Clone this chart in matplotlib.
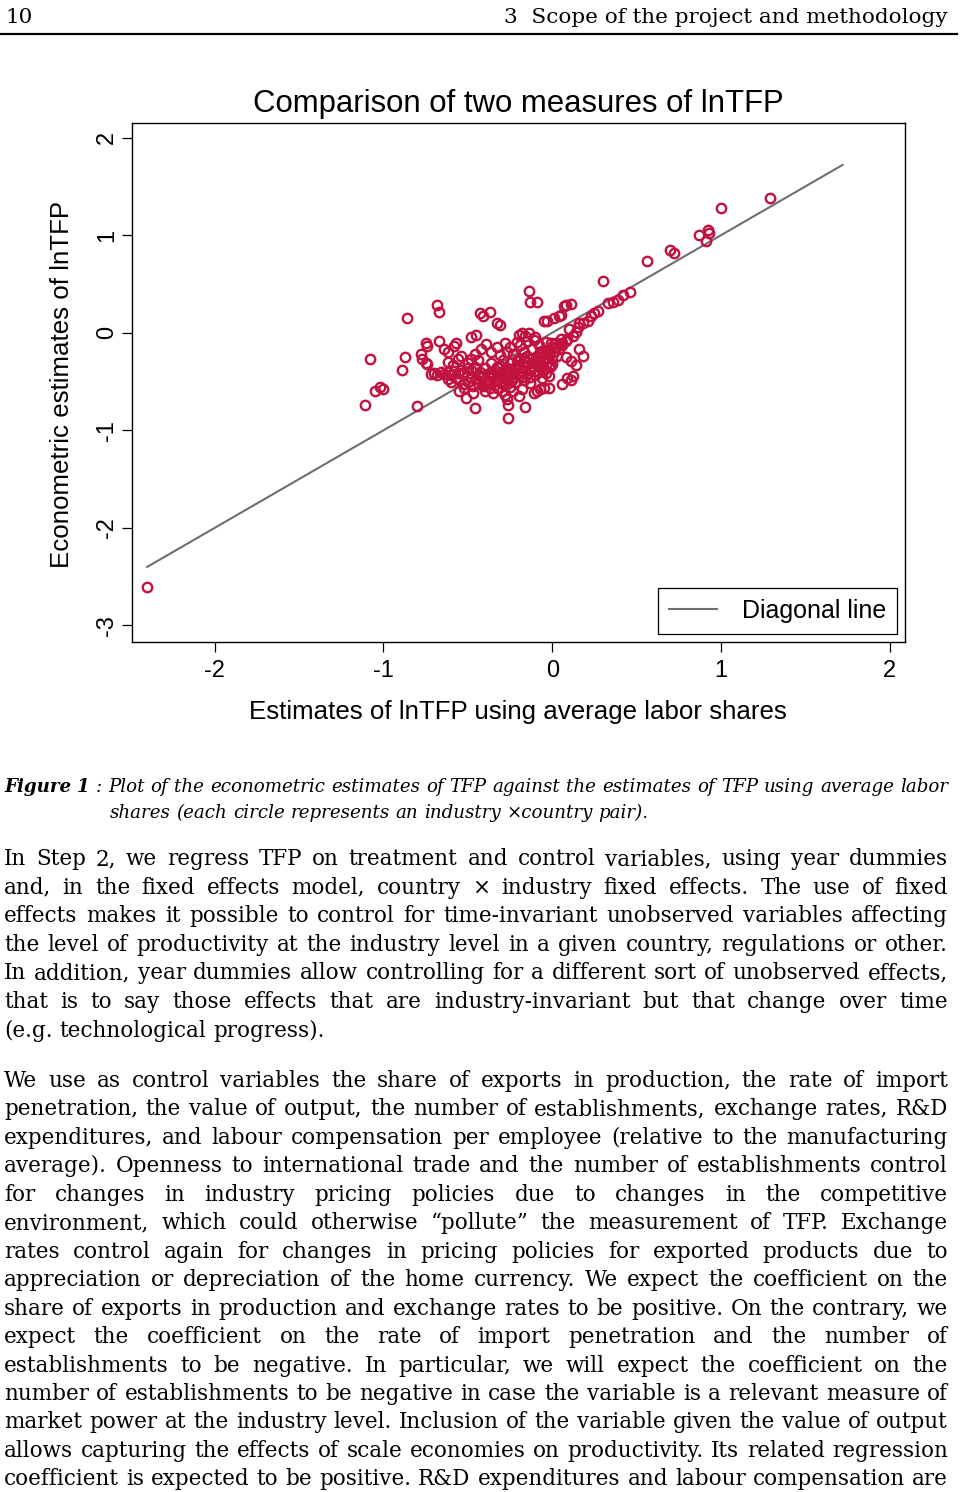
import matplotlib
matplotlib.use('Agg')
import matplotlib.pyplot as plt
from matplotlib.font_manager import FontProperties

# scatter data: (average-labor-share lnTFP, econometric lnTFP)
x_avg = [-2.40, -1.11, -1.08, -1.05, -1.02, -1.00, -0.86, -0.87, -0.89, -0.80,
         -0.68, -0.67, -0.75, -0.74, -0.78, -0.77, -0.75, -0.74, -0.67, -0.64,
         -0.62, -0.58, -0.57, -0.56, -0.48, -0.45, -0.43, -0.41, -0.37, -0.33,
         -0.31, -0.55, -0.52, -0.51, -0.47, -0.46, -0.27, -0.26, -0.26, -0.20,
         -0.16, -0.14, -0.13, -0.09, -0.11, -0.09, -0.07, -0.05, -0.02, -0.04,
         -0.02, -0.01, -0.05, -0.03, 0.01, 0.04, 0.07, 0.11, 0.06, 0.09,
         0.11, 0.12, 0.08, 0.11, 0.14, 0.16, 0.18, 0.30, 0.25, 0.27,
         0.23, 0.21, 0.18, 0.15, 0.33, 0.36, 0.39, 0.42, 0.46, 0.56,
         0.70, 0.72, 0.87, 0.92, 0.93, 0.91, 1.00, 1.29, 0.16, 0.05,
         0.08, -0.18, -0.20,
         -0.72, -0.70, -0.68, -0.66, -0.64, -0.62, -0.60, -0.58, -0.56, -0.54,
         -0.52, -0.50, -0.48, -0.46, -0.62, -0.57,
         -0.45, -0.44, -0.43, -0.42, -0.41, -0.40, -0.39, -0.38, -0.37, -0.36,
         -0.35, -0.34, -0.33, -0.33, -0.32, -0.31, -0.30, -0.29, -0.29, -0.28,
         -0.27, -0.26, -0.25, -0.25, -0.24, -0.23, -0.22, -0.22, -0.21, -0.20,
         -0.19, -0.19, -0.18, -0.17, -0.17, -0.16, -0.15, -0.15, -0.14, -0.13,
         -0.13, -0.12, -0.11, -0.10, -0.10, -0.09, -0.08, -0.08, -0.07, -0.06,
         -0.06, -0.05, -0.04, -0.04, -0.03, -0.02, -0.01, 0.00, 0.01, 0.02,
         0.03, 0.04, 0.05, 0.06, 0.08, -0.30, -0.28, -0.35, -0.40, -0.23,
         -0.18, -0.27, -0.21, -0.14, -0.11, -0.16,
         -0.60, -0.55, -0.50, -0.48, -0.52, -0.47,
         -0.62, -0.59, -0.54, -0.50, -0.48, -0.46, -0.44, -0.42, -0.39, -0.36,
         -0.33, -0.31, -0.28, -0.25,
         0.02, 0.06, 0.09, 0.12, 0.14, 0.10,
         -0.42, -0.38, -0.35, -0.32, -0.30, -0.27, -0.24, -0.22, -0.20, -0.18,
         -0.16, -0.14, -0.12, -0.10, -0.08, -0.06, -0.04, -0.02, -0.40, -0.36,
         -0.33, -0.28, -0.26, -0.23, -0.19, -0.15, -0.11, -0.07, -0.03, 0.00,
         -0.44, -0.37, -0.31, -0.25, -0.21, -0.17, -0.13, -0.09, -0.05, -0.01]
y_econ = [-2.61, -0.74, -0.27, -0.60, -0.56, -0.58, 0.15, -0.25, -0.38, -0.75,
          0.28, 0.21, -0.10, -0.14, -0.22, -0.27, -0.31, -0.32, -0.08, -0.17,
          -0.20, -0.14, -0.11, -0.27, -0.04, -0.02, 0.20, 0.17, 0.21, 0.10,
          0.08, -0.60, -0.53, -0.67, -0.62, -0.77, -0.68, -0.74, -0.87, -0.65,
          -0.76, 0.43, 0.32, 0.32, -0.62, -0.60, -0.58, -0.57, -0.57, -0.41,
          -0.44, -0.34, 0.12, 0.12, 0.15, 0.17, 0.27, 0.29, -0.53, -0.46,
          -0.48, -0.44, -0.25, -0.29, -0.33, -0.17, -0.24, 0.53, 0.20, 0.22,
          0.17, 0.12, 0.10, 0.06, 0.30, 0.32, 0.34, 0.39, 0.42, 0.74,
          0.85, 0.82, 1.00, 1.05, 1.02, 0.94, 1.28, 1.38, 0.10, 0.18,
          0.28, 0.00, -0.02,
          -0.42, -0.41, -0.43, -0.40, -0.42, -0.40, -0.43, -0.39, -0.41, -0.38,
          -0.40, -0.36, -0.38, -0.35, -0.47, -0.46,
          -0.47, -0.52, -0.40, -0.44, -0.55, -0.36, -0.48, -0.42, -0.52, -0.31,
          -0.45, -0.38, -0.57, -0.49, -0.42, -0.34, -0.46, -0.53, -0.28, -0.40,
          -0.36, -0.47, -0.31, -0.56, -0.42, -0.22, -0.38, -0.50, -0.33, -0.44,
          -0.27, -0.13, -0.39, -0.48, -0.20, -0.33, -0.42, -0.08, -0.27, -0.37,
          -0.52, -0.17, -0.31, -0.43, -0.04, -0.24, -0.35, -0.13, -0.29, -0.46,
          -0.19, -0.38, -0.26, -0.09, -0.31, -0.22, -0.15, -0.27, -0.20, -0.11,
          -0.24, -0.17, -0.06, -0.13, -0.08, -0.60, -0.64, -0.62, -0.60, -0.60,
          -0.58, -0.20, -0.09, 0.00, -0.07, -0.03,
          -0.50, -0.48, -0.50, -0.45, -0.57, -0.55,
          -0.30, -0.33, -0.24, -0.31, -0.27, -0.22, -0.28, -0.17, -0.12, -0.20,
          -0.15, -0.23, -0.10, -0.15,
          -0.15, -0.10, -0.06, -0.03, 0.01, 0.04,
          -0.45, -0.50, -0.43, -0.47, -0.40, -0.44, -0.48, -0.36, -0.41, -0.45,
          -0.30, -0.38, -0.34, -0.28, -0.40, -0.33, -0.21, -0.35, -0.53, -0.40,
          -0.35, -0.51, -0.39, -0.45, -0.35, -0.24, -0.39, -0.20, -0.18, -0.32,
          -0.43, -0.57, -0.50, -0.37, -0.28, -0.26, -0.45, -0.30, -0.28, -0.10]
diag = [-2.40, 1.72]

title = 'Comparison of two measures of lnTFP'
xlabel = 'Estimates of lnTFP using average labor shares'
ylabel = 'Econometric estimates of lnTFP'
xticks = [-2, -1, 0, 1, 2]
yticks = [-3, -2, -1, 0, 1, 2]

header_left = '10'
header_right = '3  Scope of the project and methodology'
caption1 = 'Plot of the econometric estimates of TFP against the estimates of TFP using average labor'
caption2 = 'shares (each circle represents an industry \u00d7country pair).'
para1 = [
    'In Step 2, we regress TFP on treatment and control variables, using year dummies',
    'and, in the fixed effects model, country \u00d7 industry fixed effects. The use of fixed',
    'effects makes it possible to control for time-invariant unobserved variables affecting',
    'the level of productivity at the industry level in a given country, regulations or other.',
    'In addition, year dummies allow controlling for a different sort of unobserved effects,',
    'that is to say those effects that are industry-invariant but that change over time',
    '(e.g. technological progress).',
]
para2 = [
    'We use as control variables the share of exports in production, the rate of import',
    'penetration, the value of output, the number of establishments, exchange rates, R&D',
    'expenditures, and labour compensation per employee (relative to the manufacturing',
    'average). Openness to international trade and the number of establishments control',
    'for changes in industry pricing policies due to changes in the competitive',
    'environment, which could otherwise \u201cpollute\u201d the measurement of TFP. Exchange',
    'rates control again for changes in pricing policies for exported products due to',
    'appreciation or depreciation of the home currency. We expect the coefficient on the',
    'share of exports in production and exchange rates to be positive. On the contrary, we',
    'expect the coefficient on the rate of import penetration and the number of',
    'establishments to be negative. In particular, we will expect the coefficient on the',
    'number of establishments to be negative in case the variable is a relevant measure of',
    'market power at the industry level. Inclusion of the variable given the value of output',
    'allows capturing the effects of scale economies on productivity. Its related regression',
    'coefficient is expected to be positive. R&D expenditures and labour compensation are',
]

W, H = 960, 1492
fig = plt.figure(figsize=(W / 100, H / 100), dpi=100)
rend = fig.canvas.get_renderer()
SANS = 'Liberation Sans'
SERIF = 'DejaVu Serif'
red = '#C2123F'


def fpx(x, y):
    return x / W, 1 - y / H


def tw(s, fp):
    return rend.get_text_width_height_descent(s, fp, ismath=False)[0]


def fit(text, target, **kw):
    fp = FontProperties(size=20, **kw)
    return 20 * target / tw(text, fp)


def put_line(words, x0, x1, yb, justify=True):
    widths = [tw(s, fp) for s, fp in words]
    fp0 = words[0][1]
    if justify and len(words) > 1:
        gap = (x1 - x0 - sum(widths)) / (len(words) - 1)
    else:
        gap = tw('a a', fp0) - tw('aa', fp0)
    x = x0
    for (s, fp), w in zip(words, widths):
        fig.text(*fpx(x, yb), s, fontproperties=fp, va='baseline', ha='left')
        x += w + gap


# header
hsize = fit(header_right, 441, family=SERIF)
hfp = FontProperties(family=SERIF, size=hsize)
fig.text(*fpx(5, 23), header_left, fontproperties=hfp, va='baseline', ha='left')
fig.text(*fpx(948, 23), header_right, fontproperties=hfp, va='baseline', ha='right')
fig.add_artist(plt.Line2D([0, 957 / W], [1 - 34 / H] * 2, color='black', lw=1.6))

# chart
ax = fig.add_axes([132 / W, 1 - 642 / H, 773 / W, 519 / H])
ax.plot(diag, diag, color='#6e6e6e', lw=1.5, label='Diagonal line', zorder=1)
ax.plot(x_avg, y_econ, 'o', mfc='none', mec=red, ms=6.8, mew=1.7, zorder=2)
ax.set_xlim(-2.49, 2.09)
ax.set_ylim(-3.17, 2.15)
ax.set_xticks(xticks)
ax.set_yticks(yticks)
ax.set_xticklabels([str(v) for v in xticks], fontfamily=SANS, fontsize=17)
ax.set_yticklabels([str(v) for v in yticks], fontfamily=SANS, fontsize=17,
                   rotation=90, va='center')
ax.tick_params(axis='both', direction='out', length=7, width=0.9, color='black')
ax.tick_params(axis='x', pad=6)
ax.tick_params(axis='y', pad=3)
for sp in ax.spines.values():
    sp.set_linewidth(1.0)
leg = ax.legend(loc='lower right', bbox_to_anchor=(0.9897, 0.0154), borderaxespad=0,
                fancybox=False, framealpha=1, edgecolor='black', handlelength=1.9,
                borderpad=0.45, handletextpad=1.0,
                prop=FontProperties(family=SANS, size=18))
leg.get_frame().set_linewidth(0.9)

fig.text(*fpx(518, 104), title, fontfamily=SANS, fontsize=22.4, ha='center', va='center')
fig.text(*fpx(518, 712), xlabel, fontfamily=SANS, fontsize=18.6, ha='center', va='center')
fig.text(*fpx(62, 384), ylabel, fontfamily=SANS, fontsize=18.6, ha='center', va='center',
         rotation=90)

# caption
csize = fit('Figure 1 : ' + caption1, 936, family=SERIF, style='italic')
cap_fp = FontProperties(family=SERIF, style='italic', size=csize)
cap_bold = FontProperties(family=SERIF, style='italic', weight='bold', size=csize)
cap_words = [('Figure', cap_bold), ('1', cap_bold), (':', cap_fp)]
cap_words += [(w, cap_fp) for w in caption1.split()]
put_line(cap_words, 4, 948, 792)
put_line([(w, cap_fp) for w in caption2.split()], 110, 948, 818, justify=False)

# body text
bsize = min(fit(line, 940, family=SERIF) for line in para1[:-1] + para2)
bfp = FontProperties(family=SERIF, size=bsize)
y = 865
for i, line in enumerate(para1):
    put_line([(w, bfp) for w in line.split()], 4, 948, y, justify=i < len(para1) - 1)
    y += 28.6
y = 1087
for line in para2:
    put_line([(w, bfp) for w in line.split()], 4, 948, y)
    y += 28.45

fig.savefig('out.png', dpi=100)
